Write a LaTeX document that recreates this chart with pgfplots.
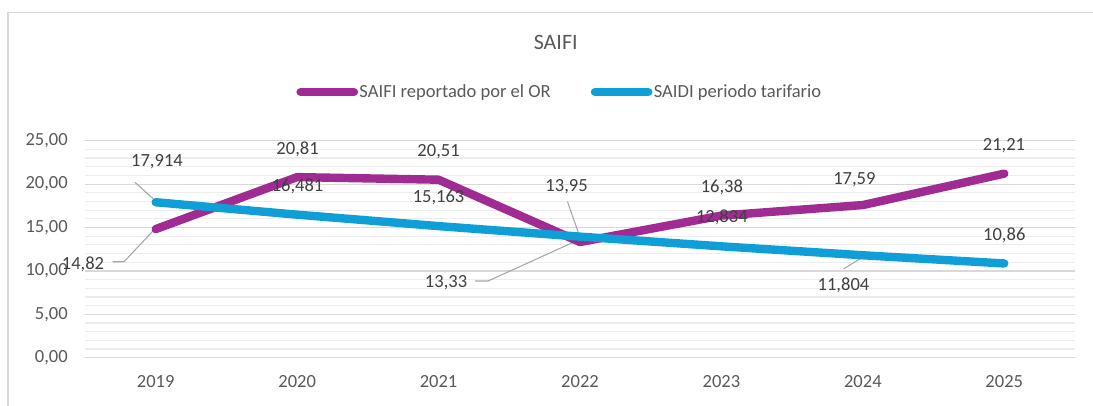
\documentclass[border=0pt]{standalone}
\usepackage{fontspec}
\setmainfont{Carlito}
\usepackage{pgfplots}
\pgfplotsset{compat=1.18}
\definecolor{saifi}{HTML}{A02B93}
\definecolor{saidi}{HTML}{0F9ED5}
\definecolor{lbl}{HTML}{404040}
\definecolor{tickc}{HTML}{595959}
\definecolor{leader}{HTML}{A6A6A6}
\definecolor{majg}{HTML}{D9D9D9}
\definecolor{ming}{HTML}{EDEDED}
\newcommand{\fs}{\fontsize{13.9}{16}\selectfont}
\begin{document}
\begin{tikzpicture}
\useasboundingbox (0,0) rectangle (819.75pt,304.5pt);
\draw[majg, line width=0.9pt] (6pt,-10pt) |- (830pt,295.1pt);
\begin{axis}[
  at={(63.75pt,36.2pt)}, anchor=south west,
  scale only axis, width=742.5pt, height=162.75pt,
  xmin=-0.5, xmax=6.5, ymin=0, ymax=25,
  clip=false,
  axis line style={draw=none},
  major tick length=0pt, minor tick length=0pt,
  xtick={0,1,2,3,4,5,6},
  xticklabels={2019,2020,2021,2022,2023,2024,2025},
  ytick={0,5,10,15,20,25},
  minor y tick num=4,
  ymajorgrids, yminorgrids,
  major grid style={majg, line width=0.9pt},
  minor grid style={ming, line width=0.9pt},
  /pgf/number format/.cd, fixed, fixed zerofill, precision=2, use comma, assume math mode=true,
  /pgfplots/.cd,
  yticklabel style={font=\fs, text=tickc, anchor=east, inner sep=0pt, xshift=-12.75pt},
  xticklabel style={font=\fs, text=tickc, anchor=center, inner sep=0pt, yshift=-17.5pt},
  legend style={draw=none, fill=none, at={(0.4793,1.2244)}, anchor=center,
    font=\fs, text=tickc, legend columns=2,
    nodes={inner xsep=1pt},
    /tikz/every even column/.append style={column sep=29pt},
    legend cell align=left},
  legend image code/.code={\draw[#1, line cap=round] (0pt,0pt) -- (40pt,0pt);},
]
% leader lines
\draw[leader, line width=0.8pt] (axis cs:-0.146,20.2) -- (axis cs:-0.017,18.3);
\draw[leader, line width=0.8pt] (axis cs:-0.304,11.06) -- (axis cs:-0.224,11.06) -- (axis cs:-0.02,14.6);
\draw[leader, line width=0.8pt] (axis cs:2.912,17.97) -- (axis cs:2.997,14.0);
\draw[leader, line width=0.8pt] (axis cs:2.258,8.84) -- (axis cs:2.35,8.84) -- (axis cs:2.98,13.5);
\draw[leader, line width=0.8pt] (axis cs:4.863,10.22) -- (axis cs:5.0,11.6);

\addplot[saifi, line width=6.3pt, line cap=round, line join=round] coordinates {
  (0,14.82) (1,20.81) (2,20.51) (3,13.33) (4,16.38) (5,17.59) (6,21.21)};
\addlegendentry{SAIFI reportado por el OR}
\addplot[saidi, line width=6.3pt, line cap=round, line join=round] coordinates {
  (0,17.914) (1,16.481) (2,15.163) (3,13.95) (4,12.834) (5,11.804) (6,10.86)};
\addlegendentry{SAIDI periodo tarifario}

% data labels
\begin{scope}[every node/.style={font=\fs, text=lbl, inner sep=0pt}]
\node at (axis cs:0.009,22.6) {17,914};
\node at (axis cs:-0.514,10.8) {14,82};
\node at (axis cs:1.003,24.0) {20,81};
\node at (axis cs:1.003,19.7) {16,481};
\node at (axis cs:2.0,23.73) {20,51};
\node at (axis cs:2.0,18.48) {15,163};
\node at (axis cs:2.053,8.69) {13,33};
\node at (axis cs:2.905,19.7) {13,95};
\node at (axis cs:4.003,19.6) {16,38};
\node at (axis cs:4.003,16.13) {12,834};
\node at (axis cs:4.94,20.47) {17,59};
\node at (axis cs:5.998,24.39) {21,21};
\node at (axis cs:6.0,14.14) {10,86};
\node at (axis cs:4.863,8.3) {11,804};
\end{scope}
\node[font=\fontsize{16.5}{19}\selectfont, text=tickc] at (axis description cs:0.4755,1.455) {SAIFI};
\end{axis}
\end{tikzpicture}
\end{document}
